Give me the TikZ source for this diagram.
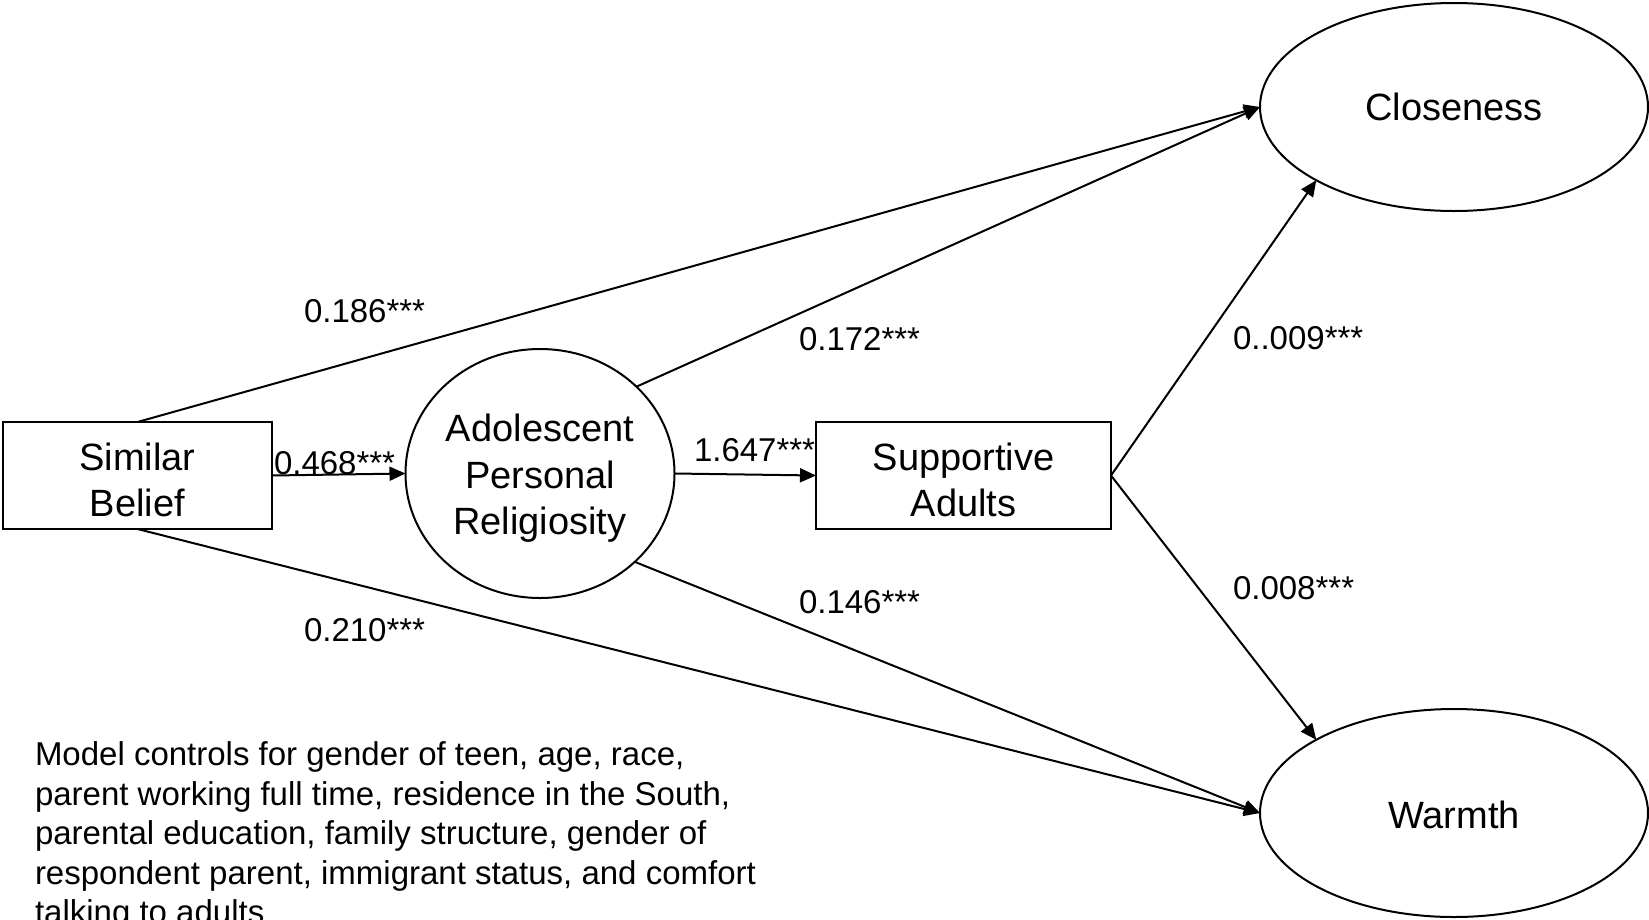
\documentclass[tikz,border=0pt]{standalone}
\usepackage{fontspec}
\setmainfont{Liberation Sans}
\usetikzlibrary{shapes.geometric,arrows.meta}

% invisible strut that lowers the first line of a variable's label a little
\newcommand{\toplift}[1]{\rule{0pt}{#1}}

\begin{document}
\begin{tikzpicture}[x=1pt,y=-1pt,
  every node/.style={inner sep=0pt, outer sep=0pt},
  boxnode/.style={draw, line width=2pt, rectangle, align=center,
    minimum height=107pt, font=\fontsize{38}{46.5}\selectfont},
  ovalnode/.style={draw, line width=2pt, ellipse, align=center,
    font=\fontsize{38}{46.5}\selectfont},
  coef/.style={anchor=base west, font=\fontsize{33}{40}\selectfont},
  arr/.style={line width=2pt, -{Triangle[length=16pt,width=14pt]}}
]
\useasboundingbox (0,0) rectangle (1649,919);
\clip (0,0) rectangle (1649,919);

% variables
\node[boxnode, minimum width=269pt] (sb) at (137.5,475.5) {\toplift{36pt}Similar\\Belief};
\node[ovalnode, minimum width=269pt, minimum height=249pt] (apr) at (540,473.5)
  {\toplift{37pt}Adolescent\\Personal\\Religiosity};
\node[boxnode, minimum width=295pt] (sa) at (963.5,475.5) {\toplift{36pt}Supportive\\Adults};
\node[ovalnode, minimum width=388pt, minimum height=208pt] (clo) at (1454,107) {Closeness};
\node[ovalnode, minimum width=388pt, minimum height=208pt] (war) at (1454,813) {\toplift{32pt}Warmth};

% paths
\draw[arr] (sb.north) -- (clo.west);
\draw[arr] (apr.42) -- (clo.west);
\draw[arr] (sb.east) -- (apr.west);
\draw[arr] (apr.east) -- (sa.west);
\draw[arr] (sa.east) -- (clo.208);
\draw[arr] (sa.east) -- (war.152);
\draw[arr] (sb.south) -- (war.west);
\draw[arr] (apr.-43) -- (war.west);

% path coefficients
\node[coef] (c1) at (304,322) {0.186***};
\node[coef] (c2) at (274,474) {0.468***};
\node[coef] (c3) at (694,461) {1.647***};
\node[coef] (c4) at (799,350) {0.172***};
\node[coef] (c5) at (799,613) {0.146***};
\node[coef] (c6) at (304,641) {0.210***};
\node[coef] (c7) at (1233,349) {0..009***};
\node[coef] (c8) at (1233,599) {0.008***};

% note on control variables
\node[anchor=north west, align=left, font=\fontsize{33}{39.5}\selectfont] (note) at (35,742)
  {Model controls for gender of teen, age, race,\\
   parent working full time, residence in the South,\\
   parental education, family structure, gender of\\
   respondent parent, immigrant status, and comfort\\
   talking to adults};
\end{tikzpicture}
\end{document}
